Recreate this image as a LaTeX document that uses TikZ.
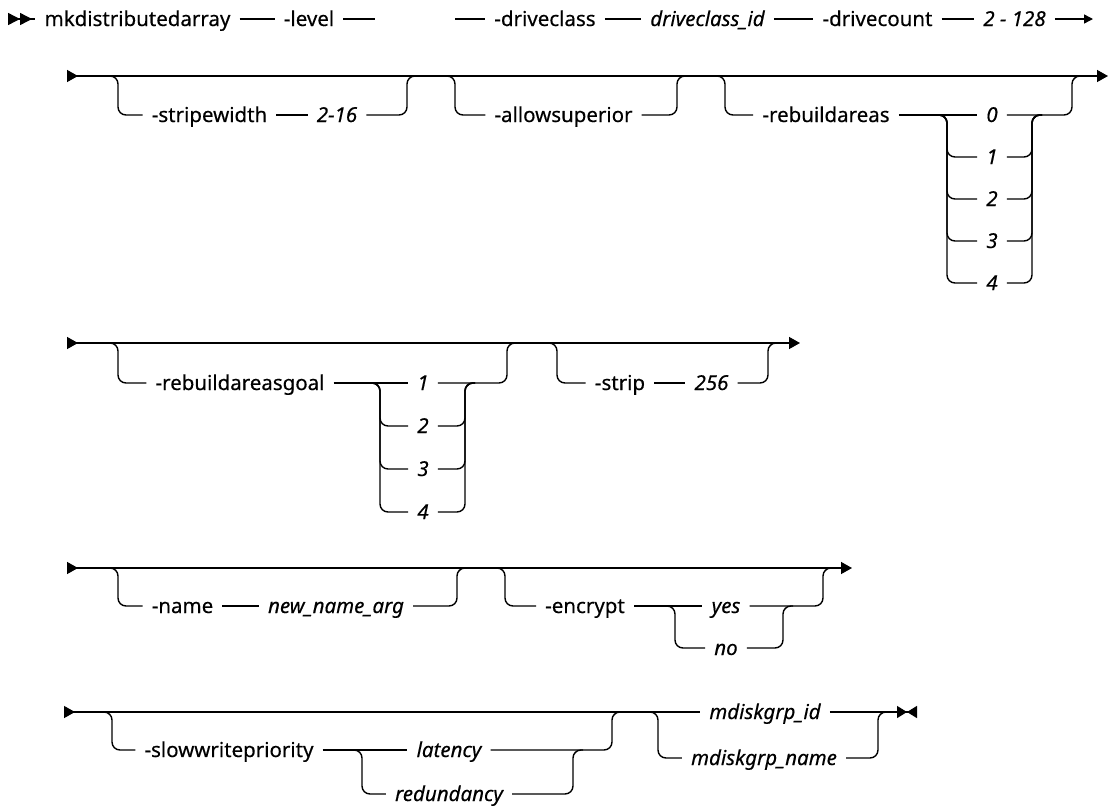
\documentclass[tikz,border=0pt]{standalone}
\usepackage{fontspec}
\setmainfont{Noto Sans}[FakeBold=0.4]
\usepackage{tikz}
\usetikzlibrary{arrows.meta}
\tikzset{
  kw/.style={font=\fontsize{20.5}{24}\selectfont, inner xsep=9pt, inner ysep=0pt, text height=14pt, text depth=0pt},
  var/.style={kw, font=\fontsize{20.5}{24}\selectfont\itshape},
  rail/.style={line width=1.4pt, rounded corners=8pt}
}
\newcommand{\sdpoint}[2] {\coordinate (#2) at (#1);}
\newcommand{\sdword}[3] {\node at (#1) (#2) [kw] {#3};}
\newcommand{\sdvar}[3] {\node at (#1) (#2) [var] {#3};}
\newcommand{\sdlink}[2] {\draw [rail] (#1) -- (#2);}
\newcommand{\sdturn}[3] {\draw [rail] (#1) -| (#2) -- (#3);}
\begin{document}
\begin{tikzpicture}[x=1pt,y=-1pt]
\useasboundingbox (0,0) rectangle (1109,807);

% first line
\sdpoint {8,19} {s1};
\sdword {137.5,19} {mk} {mkdistributedarray};
\sdword {309,19} {lvl} {-level};
\sdpoint {375,19} {l1a};
\sdpoint {455,19} {l1b};
\sdword {545,19} {dc} {-driveclass};
\sdvar {707.5,19} {dcid} {driveclass\_id};
\sdword {877.5,19} {dcnt} {-drivecount};
\sdvar {1014.5,19} {rng} {2 - 128};
\sdpoint {1093,19} {e1};

\draw [rail, {Triangle[reversed,length=12pt,width=12pt] Triangle[reversed,length=12pt,width=12pt]}-] (s1) -- (mk);
\sdlink{mk}{lvl};
\sdlink{lvl}{l1a};
\sdlink{l1b}{dc};
\sdlink{dc}{dcid};
\sdlink{dcid}{dcnt};
\sdlink{dcnt}{rng};
\draw [rail, -{Triangle[length=9pt,width=9pt]}] (rng) -- (e1);

% second line
\sdpoint {67,76} {s2};
\sdpoint {1108,76} {e2};
\draw [rail, {Triangle[reversed,length=11pt,width=12pt]}-{Triangle[length=11pt,width=12pt]}] (s2) -- (e2);

\sdpoint {108,76} {a2};
\sdpoint {118,115} {a2v};
\sdword {209.5,115} {sw} {-stripewidth};
\sdvar {337,115} {swv} {2-16};
\sdpoint {407,76} {a2w};
\sdpoint {417,76} {a2x};
\sdturn{a2}{a2v}{sw.west};
\sdlink{sw}{swv};
\sdturn{swv.east}{a2w}{a2x};

\sdpoint {445,76} {b2};
\sdpoint {455,115} {b2v};
\sdword {563.5,115} {as} {-allowsuperior};
\sdpoint {677,76} {b2w};
\sdpoint {687,76} {b2x};
\sdturn{b2}{b2v}{as.west};
\sdturn{as.east}{b2w}{b2x};

\sdpoint {715,76} {c2};
\sdpoint {725,115} {c2v};
\sdword {826,115} {rb} {-rebuildareas};
\sdvar {992,115} {r0} {0};
\sdpoint {937,115} {c2l};
\sdpoint {1032,115} {c2u};
\sdpoint {1042,115} {c2t};
\sdpoint {1072,76} {c2w};
\sdpoint {1082,76} {c2x};
\sdturn{c2}{c2v}{rb.west};
\sdlink{rb}{r0};
\sdturn{r0.east}{c2w}{c2x};
\foreach \i/\y in {1/157,2/199,3/241,4/283} {
  \sdpoint {947,\y} {rl\i};
  \sdvar {992,\y} {r\i} {\i};
  \sdturn{c2l}{rl\i}{r\i.west};
  \sdturn{r\i.east}{c2u}{c2t};
}

% third line
\sdpoint {67,343} {s3};
\sdpoint {800,343} {e3};
\draw [rail, {Triangle[reversed,length=11pt,width=12pt]}-{Triangle[length=11pt,width=12pt]}] (s3) -- (e3);

\sdpoint {108,343} {d3};
\sdpoint {118,383} {d3v};
\sdword {240,383} {rg} {-rebuildareasgoal};
\sdvar {423,383} {g1} {1};
\sdpoint {370,383} {d3l};
\sdpoint {465,383} {d3u};
\sdpoint {475,383} {d3t};
\sdpoint {507,343} {d3w};
\sdpoint {517,343} {d3x};
\sdturn{d3}{d3v}{rg.west};
\sdlink{rg}{g1};
\sdturn{g1.east}{d3w}{d3x};
\foreach \i/\y in {2/426,3/469,4/512} {
  \sdpoint {380,\y} {gl\i};
  \sdvar {423,\y} {g\i} {\i};
  \sdturn{d3l}{gl\i}{g\i.west};
  \sdturn{g\i.east}{d3u}{d3t};
}

\sdpoint {547,343} {f3};
\sdpoint {557,383} {f3v};
\sdword {620,383} {st} {-strip};
\sdvar {711.5,383} {stv} {256};
\sdpoint {768,343} {f3w};
\sdpoint {778,343} {f3x};
\sdturn{f3}{f3v}{st.west};
\sdlink{st}{stv};
\sdturn{stv.east}{f3w}{f3x};

% fourth line
\sdpoint {67,568} {s4};
\sdpoint {852,568} {e4};
\draw [rail, {Triangle[reversed,length=11pt,width=12pt]}-{Triangle[length=11pt,width=12pt]}] (s4) -- (e4);

\sdpoint {108,568} {n4};
\sdpoint {118,606} {n4v};
\sdword {182.5,606} {nm} {-name};
\sdvar {336,606} {nmv} {new\_name\_arg};
\sdpoint {457,568} {n4w};
\sdpoint {467,568} {n4x};
\sdturn{n4}{n4v}{nm.west};
\sdlink{nm}{nmv};
\sdturn{nmv.east}{n4w}{n4x};

\sdpoint {495,568} {k4};
\sdpoint {505,606} {k4v};
\sdword {585,606} {en} {-encrypt};
\sdvar {726,606} {yes} {yes};
\sdvar {726,648} {no} {no};
\sdpoint {665,606} {k4l};
\sdpoint {675,648} {k4n};
\sdpoint {783,606} {k4u};
\sdpoint {793,606} {k4t};
\sdpoint {823,568} {k4w};
\sdpoint {833,568} {k4x};
\sdturn{k4}{k4v}{en.west};
\sdlink{en}{yes};
\sdturn{yes.east}{k4w}{k4x};
\sdturn{k4l}{k4n}{no.west};
\sdturn{no.east}{k4u}{k4t};

% fifth line
\sdpoint {64,712} {s5};
\sdpoint {917,712} {e5};
\sdvar {765,712} {id} {mdiskgrp\_id};
\sdvar {764,758} {gname} {mdiskgrp\_name};
\draw [rail, {Triangle[reversed,length=11pt,width=12pt]}-] (s5) -- (id);
\draw [rail, -{Triangle[length=10pt,width=12pt] Triangle[reversed,length=10pt,width=12pt]}] (id) -- (e5);

\sdpoint {102,712} {h5};
\sdpoint {112,750} {h5v};
\sdword {229,750} {sp} {-slowwritepriority};
\sdvar {449,750} {lat} {latency};
\sdvar {449,794} {red} {redundancy};
\sdpoint {352,750} {h5l};
\sdpoint {362,794} {h5n};
\sdpoint {573,750} {h5u};
\sdpoint {583,750} {h5t};
\sdpoint {612,712} {h5w};
\sdpoint {622,712} {h5x};
\sdturn{h5}{h5v}{sp.west};
\sdlink{sp}{lat};
\sdturn{lat.east}{h5w}{h5x};
\sdturn{h5l}{h5n}{red.west};
\sdturn{red.east}{h5u}{h5t};

\sdpoint {648,712} {m5};
\sdpoint {658,758} {m5v};
\sdpoint {878,712} {m5w};
\sdpoint {888,712} {m5x};
\sdturn{m5}{m5v}{gname.west};
\sdturn{gname.east}{m5w}{m5x};
\end{tikzpicture}
\end{document}
